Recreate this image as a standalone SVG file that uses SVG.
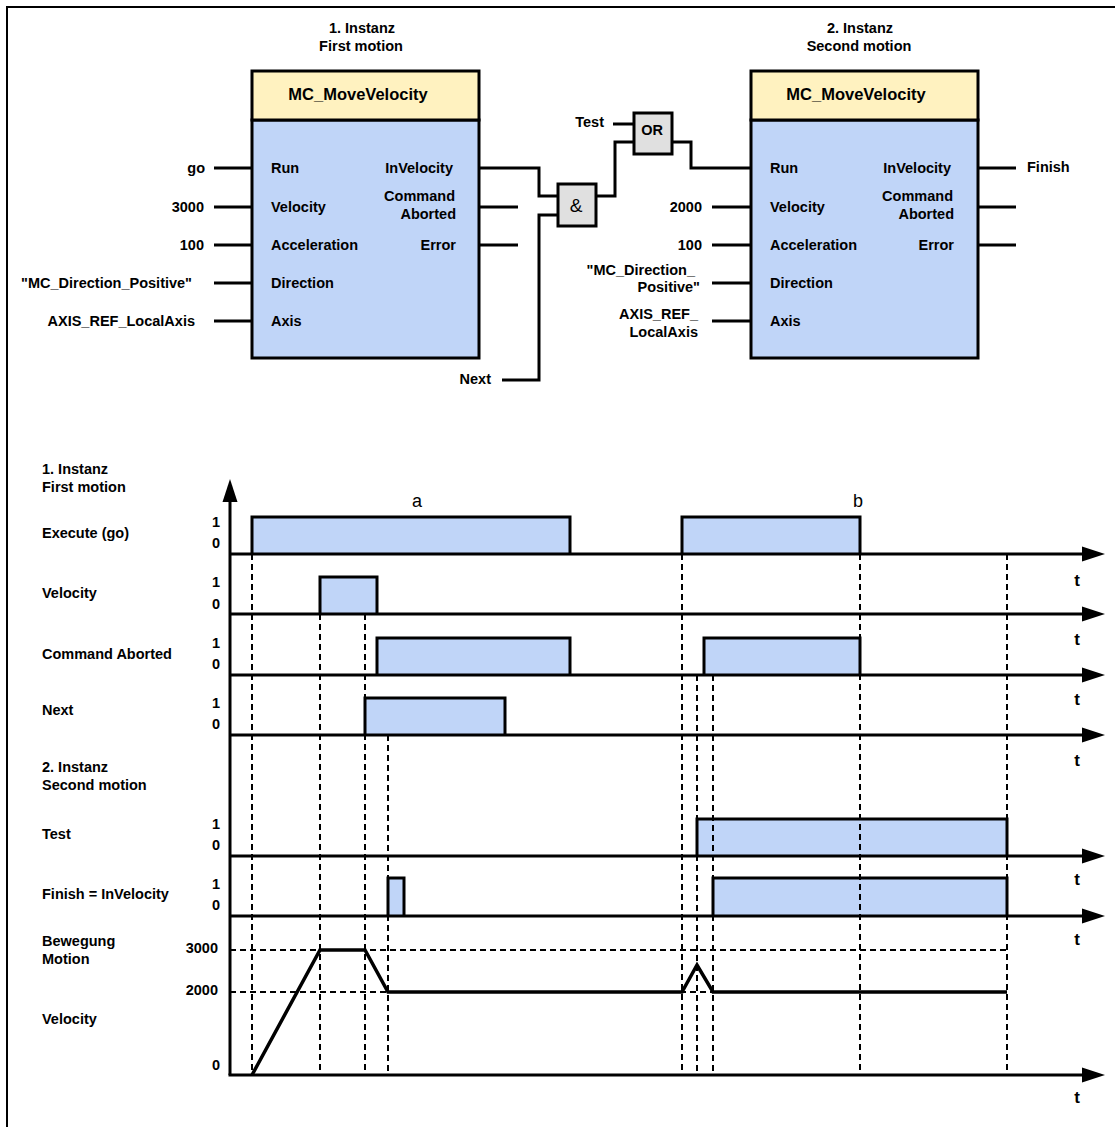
<svg xmlns="http://www.w3.org/2000/svg" width="1115" height="1127" viewBox="0 0 1115 1127">
<style>
text{font-family:"Liberation Sans",Arial,sans-serif;fill:#000}
.b{font-weight:bold;font-size:14.5px}
.h{font-weight:bold;font-size:16.5px}
.e{text-anchor:end}
.m{text-anchor:middle}
.ab{font-size:18px;text-anchor:middle}
.t{font-weight:bold;font-size:17px;text-anchor:middle}
.amp{font-size:19px;text-anchor:middle}
.hdr{fill:#fff2c0;stroke:#000;stroke-width:3}
.body{fill:#c0d5f8;stroke:#000;stroke-width:3}
.gate{fill:#e0e0e0;stroke:#000;stroke-width:3}
.w{fill:none;stroke:#000;stroke-width:3}
.ax{fill:none;stroke:#000;stroke-width:3}
.p{fill:#c0d5f8;stroke:#000;stroke-width:3}
.d{fill:none;stroke:#000;stroke-width:2;stroke-dasharray:6,4}
.v{fill:none;stroke:#000;stroke-width:3.5;stroke-linejoin:miter}
</style>
<defs>
<marker id="arr" markerUnits="userSpaceOnUse" markerWidth="24" markerHeight="16" refX="0" refY="8" orient="auto">
<path d="M0,0.5 L23,8 L0,15.5 z" fill="#000"/>
</marker>
</defs>
<rect x="7" y="7" width="1120" height="1130" fill="#fff" stroke="#000" stroke-width="2"/>

<g id="block1">
<text class="b m" x="362" y="33">1. Instanz</text>
<text class="b m" x="361" y="51">First motion</text>
<rect class="body" x="252" y="120" width="227" height="238"/>
<rect class="hdr" x="252" y="71" width="227" height="49"/>
<text class="h m" x="358" y="100">MC_MoveVelocity</text>
<text class="b" x="271" y="173">Run</text>
<text class="b" x="271" y="212">Velocity</text>
<text class="b" x="271" y="250">Acceleration</text>
<text class="b" x="271" y="288">Direction</text>
<text class="b" x="271" y="326">Axis</text>
<text class="b e" x="453" y="173">InVelocity</text>
<text class="b e" x="455" y="201">Command</text>
<text class="b e" x="456" y="219">Aborted</text>
<text class="b e" x="456" y="250">Error</text>
</g>

<g id="block2">
<text class="b m" x="860" y="33">2. Instanz</text>
<text class="b m" x="859" y="51">Second motion</text>
<rect class="body" x="751" y="120" width="227" height="238"/>
<rect class="hdr" x="751" y="71" width="227" height="49"/>
<text class="h m" x="856" y="100">MC_MoveVelocity</text>
<text class="b" x="770" y="173">Run</text>
<text class="b" x="770" y="212">Velocity</text>
<text class="b" x="770" y="250">Acceleration</text>
<text class="b" x="770" y="288">Direction</text>
<text class="b" x="770" y="326">Axis</text>
<text class="b e" x="951" y="173">InVelocity</text>
<text class="b e" x="953" y="201">Command</text>
<text class="b e" x="954" y="219">Aborted</text>
<text class="b e" x="954" y="250">Error</text>
</g>

<g id="and-gate">
<rect class="gate" x="558" y="184" width="38" height="42"/>
<text class="amp" x="576" y="212">&amp;</text>
</g>
<g id="or-gate">
<rect class="gate" x="634" y="113" width="38" height="41"/>
<text class="b m" x="652" y="135">OR</text>
</g>

<g id="signals">
<text class="b e" x="205" y="173">go</text>
<text class="b e" x="204" y="212">3000</text>
<text class="b e" x="204" y="250">100</text>
<text class="b e" x="192" y="288">"MC_Direction_Positive"</text>
<text class="b e" x="195" y="326">AXIS_REF_LocalAxis</text>
<text class="b e" x="491" y="384">Next</text>
<text class="b e" x="604" y="127">Test</text>
<text class="b e" x="702" y="212">2000</text>
<text class="b e" x="702" y="250">100</text>
<text class="b e" x="695" y="275">"MC_Direction_</text>
<text class="b e" x="700" y="292">Positive"</text>
<text class="b e" x="698" y="319">AXIS_REF_</text>
<text class="b e" x="698" y="337">LocalAxis</text>
<text class="b" x="1027" y="172">Finish</text>
</g>

<g id="connectors">
<path class="w" d="M214,168 H252 M214,207 H252 M214,245 H252 M214,283 H252 M214,321 H252"/>
<path class="w" d="M479,207 H518 M479,245 H518"/>
<path class="w" d="M479,168 H539 V196 H558"/>
<path class="w" d="M502,380 H539 V215 H558"/>
<path class="w" d="M596,196 H615 V142 H634"/>
<path class="w" d="M613,124 H634"/>
<path class="w" d="M672,142 H691 V168 H751"/>
<path class="w" d="M712,207 H751 M712,245 H751 M712,283 H751 M712,321 H751"/>
<path class="w" d="M978,168 H1016 M978,207 H1016 M978,245 H1016"/>
</g>

<g id="timing-labels">
<text class="b" x="42" y="474">1. Instanz</text>
<text class="b" x="42" y="492">First motion</text>
<text class="b" x="42" y="538">Execute (go)</text>
<text class="b" x="42" y="598">Velocity</text>
<text class="b" x="42" y="659">Command Aborted</text>
<text class="b" x="42" y="715">Next</text>
<text class="b" x="42" y="772">2. Instanz</text>
<text class="b" x="42" y="790">Second motion</text>
<text class="b" x="42" y="839">Test</text>
<text class="b" x="42" y="899">Finish = InVelocity</text>
<text class="b" x="42" y="946">Bewegung</text>
<text class="b" x="42" y="964">Motion</text>
<text class="b" x="42" y="1024">Velocity</text>
<text class="b m" x="216" y="527">1</text><text class="b m" x="216" y="548">0</text>
<text class="b m" x="216" y="587">1</text><text class="b m" x="216" y="609">0</text>
<text class="b m" x="216" y="648">1</text><text class="b m" x="216" y="669">0</text>
<text class="b m" x="216" y="708">1</text><text class="b m" x="216" y="729">0</text>
<text class="b m" x="216" y="829">1</text><text class="b m" x="216" y="850">0</text>
<text class="b m" x="216" y="889">1</text><text class="b m" x="216" y="910">0</text>
<text class="b e" x="218" y="953">3000</text>
<text class="b e" x="218" y="995">2000</text>
<text class="b m" x="216" y="1070">0</text>
<text class="ab" x="417" y="507">a</text>
<text class="ab" x="858" y="507">b</text>
<text class="t" x="1077" y="586">t</text>
<text class="t" x="1077" y="645">t</text>
<text class="t" x="1077" y="705">t</text>
<text class="t" x="1077" y="766">t</text>
<text class="t" x="1077" y="885">t</text>
<text class="t" x="1077" y="945">t</text>
<text class="t" x="1077" y="1103">t</text>
</g>

<g id="pulses">
<path class="p" d="M252,554 V517 H570 V554"/>
<path class="p" d="M682,554 V517 H860 V554"/>
<path class="p" d="M320,614 V577 H377 V614"/>
<path class="p" d="M377,675 V638 H570 V675"/>
<path class="p" d="M704,675 V638 H860 V675"/>
<path class="p" d="M365,735 V698 H505 V735"/>
<path class="p" d="M697,856 V819 H1007 V856"/>
<path class="p" d="M388,916 V878 H404 V916"/>
<path class="p" d="M713,916 V878 H1007 V916"/>
</g>

<g id="guides">
<path class="d" d="M252,554 V1075 M320,614 V1075 M365,614 V1075 M388,735 V1075 M682,554 V1075 M697,675 V1075 M713,675 V1075 M860,554 V1075 M1007,554 V1075"/>
<path class="d" d="M230,950 H1007 M230,992 H1007"/>
</g>

<g id="axes">
<path class="ax" d="M230,1075 V502" marker-end="url(#arr)"/>
<path class="ax" d="M230,554 H1082" marker-end="url(#arr)"/>
<path class="ax" d="M230,614 H1082" marker-end="url(#arr)"/>
<path class="ax" d="M230,675 H1082" marker-end="url(#arr)"/>
<path class="ax" d="M230,735 H1082" marker-end="url(#arr)"/>
<path class="ax" d="M230,856 H1082" marker-end="url(#arr)"/>
<path class="ax" d="M230,916 H1082" marker-end="url(#arr)"/>
<path class="ax" d="M228.5,1075 H1082" marker-end="url(#arr)"/>
</g>

<g id="velocity-profile">
<polyline class="v" points="252,1075 320,950 365,950 388,992 682,992 697,965 713,992 1007,992"/>
</g>
</svg>
